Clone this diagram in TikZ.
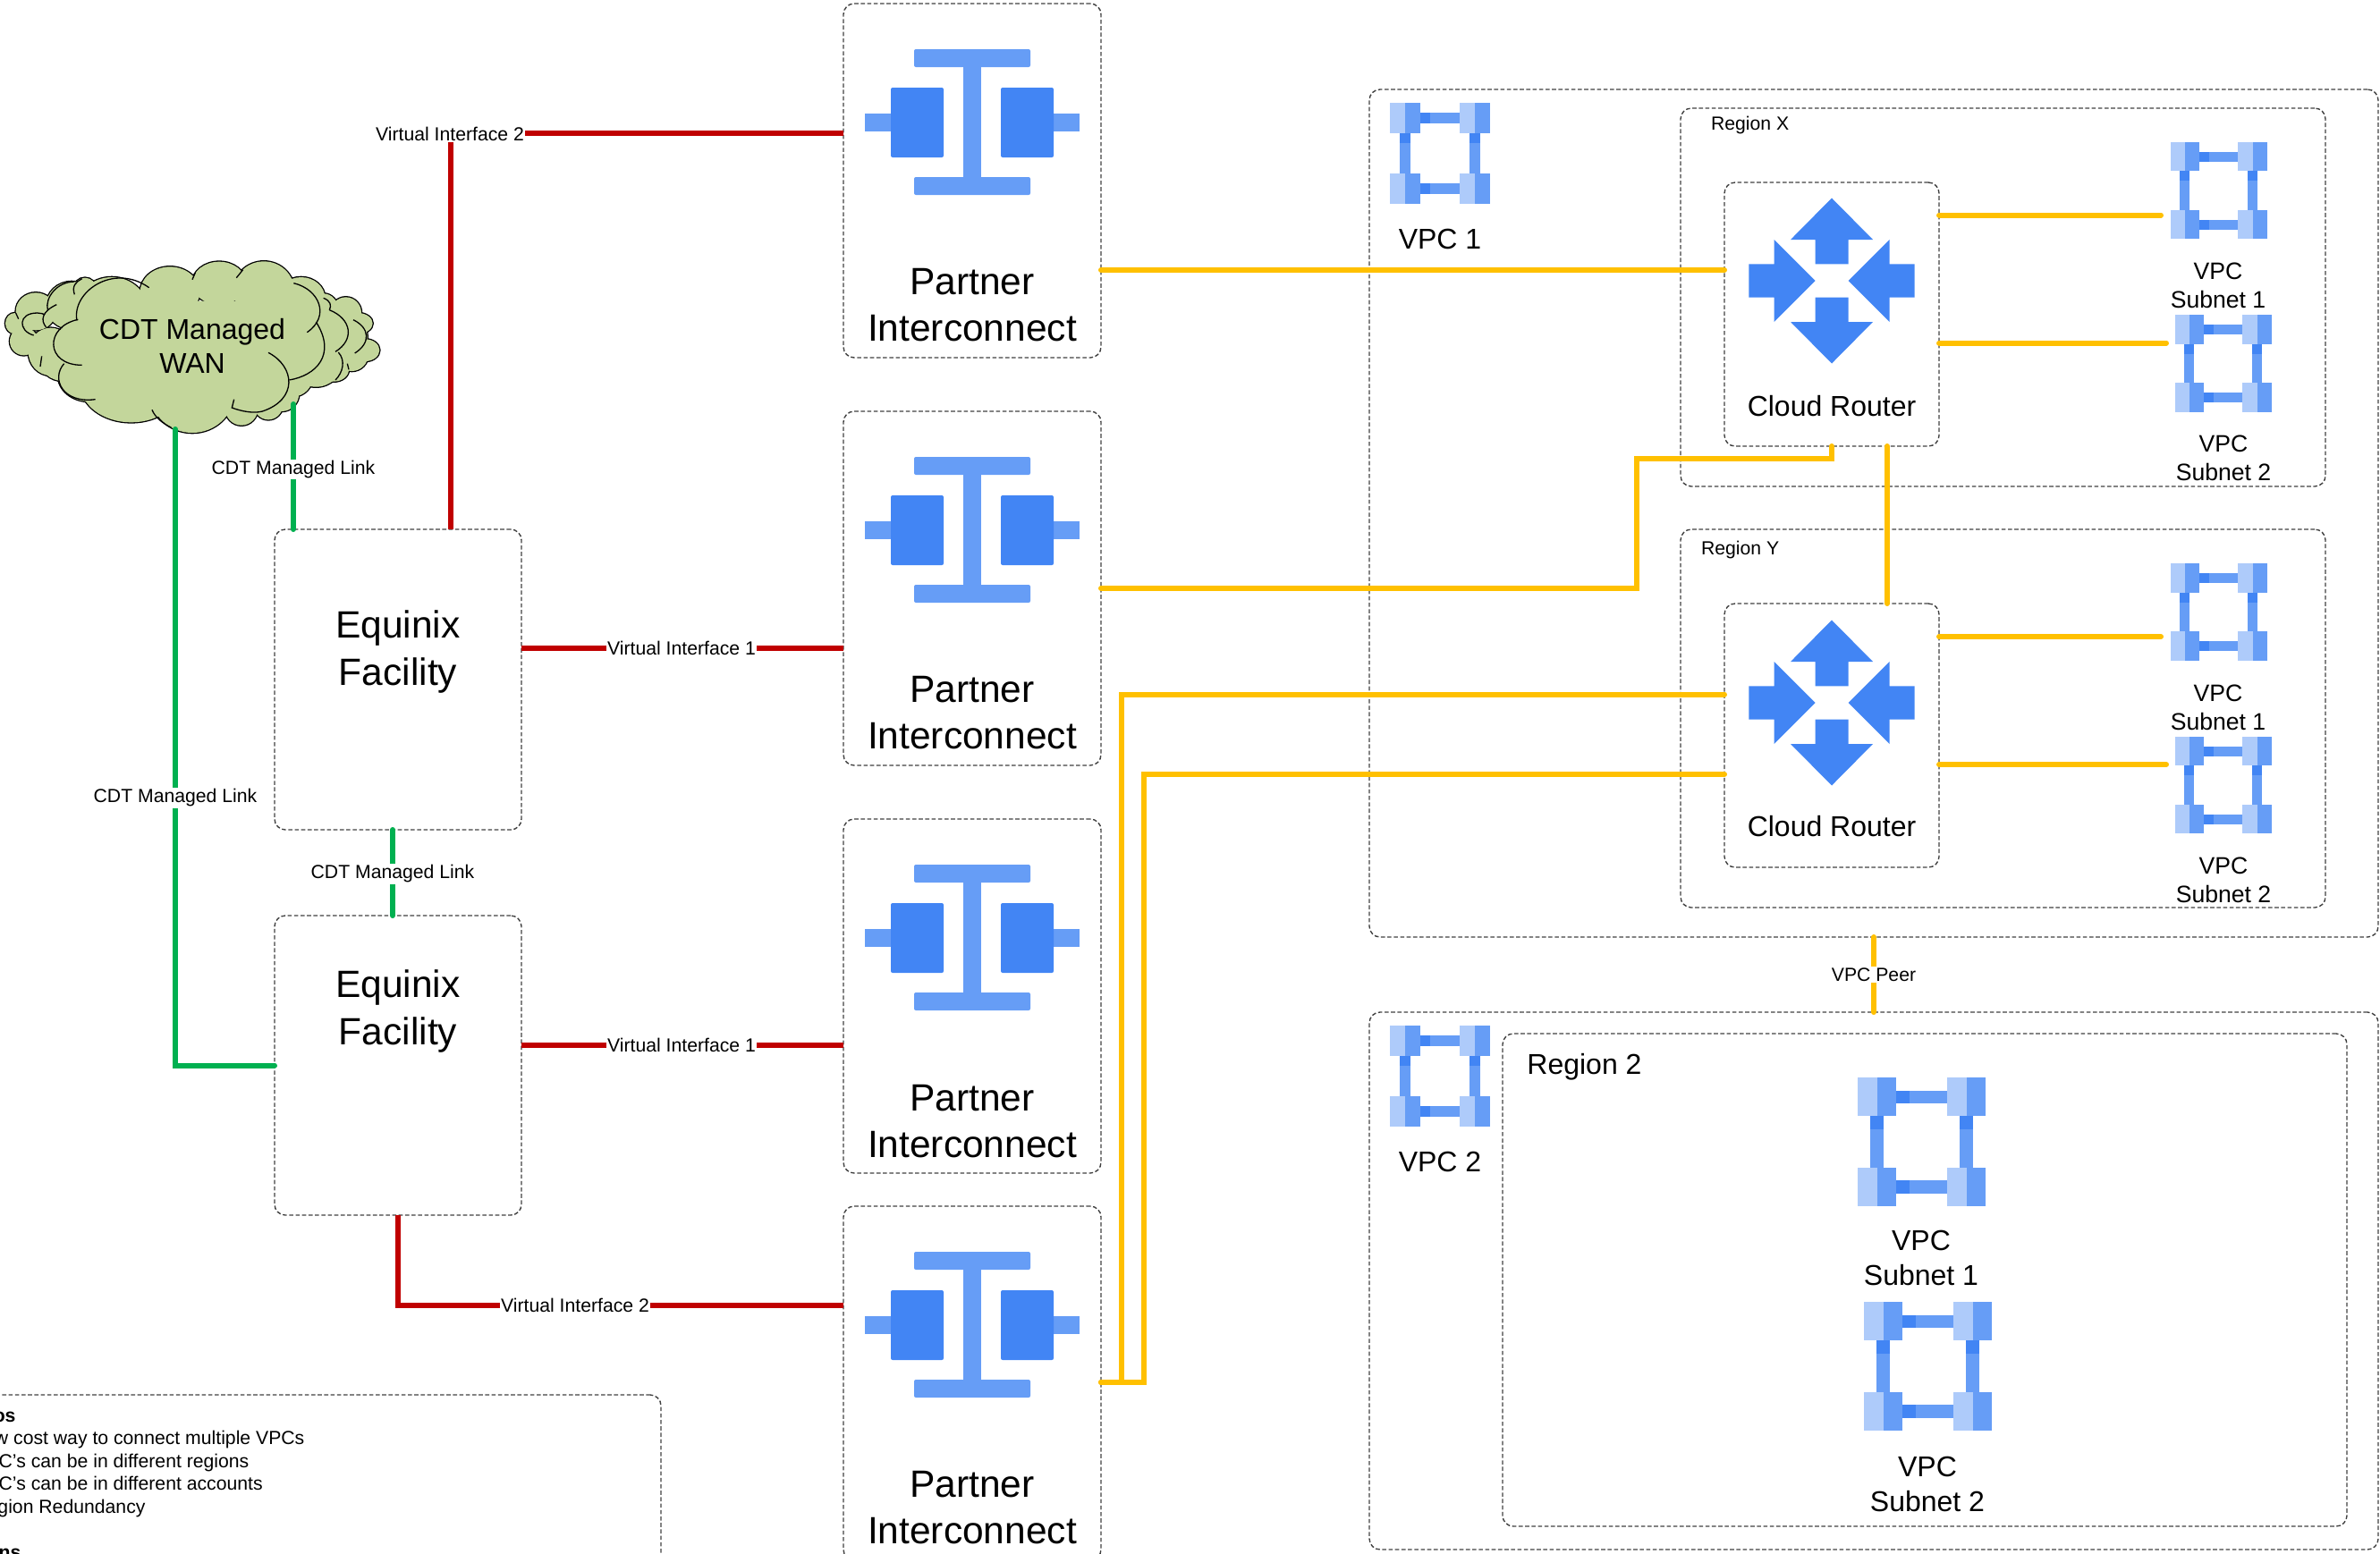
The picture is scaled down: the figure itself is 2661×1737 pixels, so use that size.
\documentclass[tikz,border=0pt]{standalone}
\usepackage{fontspec}
\setmainfont{Liberation Sans}
\definecolor{gdark}{HTML}{4285F4}
\definecolor{gmid}{HTML}{669DF6}
\definecolor{glight}{HTML}{AECBFA}
\definecolor{redline}{HTML}{C00000}
\definecolor{amber}{HTML}{FFC000}
\definecolor{greenline}{HTML}{00B050}
\definecolor{cloudfill}{HTML}{C3D69B}
\newcommand{\cloudlobes}{120/235/67/63, 50/275/32/35, 80/335/47/47, 240/215/85/80, 285/160/38/38,
  375/230/120/110, 570/170/100/85, 735/140/90/72, 885/165/102/98, 1010/190/80/70,
  1085/230/50/55, 1160/240/52/53, 1200/275/50/35, 1225/365/48/37, 1180/380/55/55,
  170/370/75/80, 210/400/75/68, 300/450/105/87, 440/480/170/127, 645/510/140/132,
  850/470/118/105, 810/560/55/57, 900/550/48/48, 945/510/58/60, 985/450/65/70,
  1060/400/90/88, 1120/430/50/40, 1000/340/90/125, 1080/300/90/75, 1160/320/72/70}
\tikzset{
  dbox/.style={draw=black!75,line width=0.7pt,dash pattern=on 2.3pt off 1.3pt,rounded corners=6pt,
    inner sep=0pt,outer sep=0pt,anchor=north west},
  boxwh/.style 2 args={minimum width=#1*0.5pt,minimum height=#2*0.5pt},
  redl/.style={draw=redline,line width=3pt},
  ambl/.style={draw=amber,line width=3pt,line cap=round},
  grnl/.style={draw=greenline,line width=3pt,line cap=round},
  lab/.style={fill=white,inner sep=0.8pt,font=\fontsize{10.6}{12.75}\selectfont},
  bigt/.style={align=center,inner sep=0pt,font=\fontsize{21.25}{26.3}\selectfont},
  midt/.style={align=center,inner sep=0pt,font=\fontsize{16}{19.5}\selectfont},
  smlt/.style={align=center,inner sep=0pt,font=\fontsize{13.3}{16}\selectfont},
  pics/piicon/.style={code={
    \fill[gmid,rounded corners=1pt] (-65,51) rectangle (65,71);
    \fill[gmid,rounded corners=1pt] (-65,194) rectangle (65,214);
    \fill[gmid] (-10,71) rectangle (10,194);
    \fill[gmid] (-120,123) rectangle (-91,143);
    \fill[gmid] (91,123) rectangle (120,143);
    \fill[gdark,rounded corners=1pt] (-91,94) rectangle (-32,172);
    \fill[gdark,rounded corners=1pt] (32,94) rectangle (91,172);
  }},
  pics/routericon/.style={code={
    \fill[gdark] (0,-92.5) -- (46,-46) -- (18.5,-46) -- (18.5,-18.7) -- (-18.5,-18.7) -- (-18.5,-46) -- (-46,-46) -- cycle;
    \fill[gdark] (0,92.5) -- (46,46) -- (18.5,46) -- (18.5,18.7) -- (-18.5,18.7) -- (-18.5,46) -- (-46,46) -- cycle;
    \fill[gdark] (-18.5,0) -- (-64.5,-46) -- (-64.5,-18.7) -- (-92.7,-18.7) -- (-92.7,18.7) -- (-64.5,18.7) -- (-64.5,46) -- cycle;
    \fill[gdark] (18.5,0) -- (64.5,-46) -- (64.5,-18.7) -- (92.7,-18.7) -- (92.7,18.7) -- (64.5,18.7) -- (64.5,46) -- cycle;
  }},
  pics/vpcicon/.style={code={
    \foreach \bx/\by in {0/0,75.5/0,0/76,75.5/76}{
      \fill[glight] (\bx,\by) rectangle ++(16.3,32.5);
      \fill[gmid] (\bx+16.3,\by) rectangle ++(16.2,32.5);
    }
    \foreach \ly in {11,87}{
      \fill[gmid] (32.5,\ly) rectangle (75.5,\ly+11);
      \fill[gdark] (32.5,\ly) rectangle (43.5,\ly+11);
    }
    \foreach \lx in {10.7,86.2}{
      \fill[gmid] (\lx,32.5) rectangle (\lx+11,76);
      \fill[gdark] (\lx,32.5) rectangle (\lx+11,43.5);
    }
  }},
}
\begin{document}
\begin{tikzpicture}[x=0.5pt,y=-0.5pt]
\useasboundingbox (0,0) rectangle (2661,1737);
\clip (0,0) rectangle (2661,1737);

% cloud
\begin{scope}[shift={(0,270)},x=0.16667pt,y=-0.16667pt]
  \foreach \cx/\cy/\ra/\rb in \cloudlobes {\draw[black,line width=1.3pt] (\cx,\cy) ellipse [x radius=\ra,y radius=\rb];}
  \foreach \cx/\cy/\ra/\rb in \cloudlobes {\fill[cloudfill] (\cx,\cy) ellipse [x radius=\ra,y radius=\rb];}
  \fill[cloudfill] (300,200) -- (1000,200) -- (1100,350) -- (950,500) -- (650,600) -- (300,500) -- (150,350) -- cycle;
  \begin{scope}[black,line width=0.65pt]
    \draw (262,262) .. controls (150,285) and (150,415) .. (275,415);
    \draw (258,265) .. controls (240,170) and (380,70) .. (500,155);
    \draw (645,128) -- (655,105);
    \draw (793,122) -- (815,95);
    \draw (985,140) .. controls (1070,160) and (1110,250) .. (1030,305);
    \draw (1060,270) .. controls (1130,380) and (1060,450) .. (970,465);
    \draw (900,373) .. controls (990,420) and (1000,530) .. (880,570) .. controls (850,578) and (810,570) .. (778,558) -- (785,530);
    \draw (510,565) .. controls (520,590) and (545,610) .. (575,625);
    \draw (215,410) .. controls (170,460) and (210,545) .. (320,530);
    \draw (190,212) .. controls (140,235) and (135,265) .. (155,288);
    \draw (113,315) .. controls (60,300) and (60,240) .. (125,240) .. controls (135,240) and (145,243) .. (150,245);
    \draw (250,178) .. controls (240,150) and (255,135) .. (275,125);
    \draw (160,230) .. controls (150,190) and (190,135) .. (250,135);
    \draw (53,240) -- (62,260);
    \draw (140,385) -- (135,420);
    \draw (1085,190) .. controls (1110,200) and (1112,215) .. (1105,230);
    \draw (1105,230) .. controls (1180,260) and (1190,330) .. (1125,370);
    \draw (1185,263) .. controls (1240,290) and (1245,340) .. (1190,375);
    \draw (1135,372) .. controls (1160,400) and (1150,440) .. (1125,465);
    \draw (1165,410) -- (1170,430);
  \end{scope}
\end{scope}
\node[align=center,inner sep=0pt,font=\fontsize{16}{19}\selectfont] (cloud) at (215,387) {CDT Managed\\WAN};

% containers
\node[dbox,boxwh={1128}{948}] (vpc1) at (1531,100) {};
\node[dbox,boxwh={1128}{601}] (vpc2) at (1531,1132) {};
\node[dbox,boxwh={721}{423}] (regx) at (1879,121) {};
\node[dbox,boxwh={721}{423}] (regy) at (1879,592) {};
\node[dbox,boxwh={944}{551}] (reg2) at (1680,1156) {};
\node[dbox,boxwh={240}{295}] (cr1) at (1928,204) {};
\node[dbox,boxwh={240}{295}] (cr2) at (1928,675) {};
\node[dbox,boxwh={288}{396}] (pi1) at (943,4) {};
\node[dbox,boxwh={288}{396}] (pi2) at (943,460) {};
\node[dbox,boxwh={288}{396}] (pi3) at (943,916) {};
\node[dbox,boxwh={288}{396}] (pi4) at (943,1349) {};
\node[dbox,boxwh={276}{336}] (eq1) at (307,592) {};
\node[dbox,boxwh={276}{335}] (eq2) at (307,1024) {};
\node[dbox,boxwh={839}{300}] (notes) at (-100,1560) {};

% icons
\pic at (1087,4) {piicon};
\pic at (1087,460) {piicon};
\pic at (1087,916) {piicon};
\pic at (1087,1349) {piicon};
\pic at (2048,314) {routericon};
\pic at (2048,786) {routericon};
\pic at (2426.7,158.5) {vpcicon};
\pic at (2431.7,352) {vpcicon};
\pic at (2426.7,630) {vpcicon};
\pic at (2431.7,823.7) {vpcicon};
\pic[scale=1.037] at (1554,115) {vpcicon};
\pic[scale=1.037] at (1554,1147) {vpcicon};
\pic[scale=1.324] at (2077,1205) {vpcicon};
\pic[scale=1.324] at (2084,1456) {vpcicon};

% waypoints
\coordinate (vi2c) at (504,148.5);
\coordinate (vi1a) at (700,724.5);
\coordinate (vi1b) at (700,1168.5);
\coordinate (gtop) at (328,452);
\coordinate (gleft) at (196,480);
\coordinate (vi2d) at (445,1459.5);
\coordinate (gcorner) at (196,1191.5);
\coordinate (gmidc) at (439,976);
\coordinate (a1) at (1500,302);
\coordinate (a2a) at (1830,658);
\coordinate (a2b) at (1830,512.5);
\coordinate (a3) at (2110,600);
\coordinate (s11) at (2416,240.5);
\coordinate (s12) at (2422,383.5);
\coordinate (s21) at (2416,712);
\coordinate (s22) at (2422,855);
\coordinate (a4a) at (1254,1546);
\coordinate (a4b) at (1254,776.5);
\coordinate (a5a) at (1279,1546);
\coordinate (a5b) at (1279,866);
\coordinate (peer) at (2095,1090);

% red connectors
\draw[redl] (pi1.west |- vi2c) -- (vi2c) -- (vi2c |- eq1.north);
\draw[redl] (eq1.east |- vi1a) -- (pi2.west |- vi1a);
\draw[redl] (eq2.east |- vi1b) -- (pi3.west |- vi1b);
\draw[redl] (eq2.south) -- (eq2.south |- vi2d) -- (pi4.west |- vi2d);

% green connectors
\draw[grnl] (gtop) -- (gtop |- eq1.north);
\draw[grnl] (gleft) -- (gcorner) -- (eq2.west |- gcorner);
\draw[grnl] (gmidc |- eq1.south) -- (gmidc |- eq2.north);

% amber connectors
\draw[ambl] (pi1.east |- a1) -- (cr1.west |- a1);
\draw[ambl] (pi2.east |- a2a) -- (a2a) -- (a2b) -- (cr1.south |- a2b) -- (cr1.south);
\draw[ambl] (a3 |- cr1.south) -- (a3 |- cr2.north);
\draw[ambl] (cr1.east |- s11) -- (s11);
\draw[ambl] (cr1.east |- s12) -- (s12);
\draw[ambl] (cr2.east |- s21) -- (s21);
\draw[ambl] (cr2.east |- s22) -- (s22);
\draw[ambl] (pi4.east |- a4a) -- (a4a) -- (a4b) -- (cr2.west |- a4b);
\draw[ambl] (pi4.east |- a5a) -- (a5a) -- (a5b) -- (cr2.west |- a5b);
\draw[ambl] (peer |- vpc1.south) -- (peer |- vpc2.north);

% connector labels
\node[lab] (lv2a) at (503,150) {Virtual Interface 2};
\node[lab] (lv1a) at (762,724.5) {Virtual Interface 1};
\node[lab] (lv1b) at (762,1169) {Virtual Interface 1};
\node[lab] (lv2b) at (643,1460) {Virtual Interface 2};
\node[lab] (lg1) at (328,525) {CDT Managed Link};
\node[lab] (lg2) at (196,892) {CDT Managed Link};
\node[lab] (lg3) at (439,977) {CDT Managed Link};
\node[lab] (lpeer) at (2095,1090) {VPC Peer};

% texts
\node[bigt] (tpi1) at (1087,341) {Partner\\Interconnect};
\node[bigt] (tpi2) at (1087,797) {Partner\\Interconnect};
\node[bigt] (tpi3) at (1087,1254) {Partner\\Interconnect};
\node[bigt] (tpi4) at (1087,1686) {Partner\\Interconnect};
\node[bigt] (teq1) at (445,729) {Equinix\\Facility};
\node[bigt] (teq2) at (445,1131) {Equinix\\Facility};
\node[midt] (tcr1) at (2048,454) {Cloud Router};
\node[midt] (tcr2) at (2048,924) {Cloud Router};
\node[font=\fontsize{16}{18}\selectfont,inner sep=0pt] (tv1) at (1610,267) {VPC 1};
\node[font=\fontsize{16}{18}\selectfont,inner sep=0pt] (tv2) at (1610,1299) {VPC 2};
\node[lab,fill=none,anchor=west] (trx) at (1911,140) {Region X};
\node[lab,fill=none,anchor=west] (try) at (1900,615) {Region Y};
\node[midt,anchor=west] (tr2) at (1707,1193) {Region 2};
\node[smlt] (ts11) at (2480,319) {VPC\\Subnet 1};
\node[smlt] (ts12) at (2486,512) {VPC\\Subnet 2};
\node[smlt] (ts21) at (2480,791) {VPC\\Subnet 1};
\node[smlt] (ts22) at (2486,984) {VPC\\Subnet 2};
\node[midt] (tr21) at (2148,1407) {VPC\\Subnet 1};
\node[midt] (tr22) at (2155,1660) {VPC\\Subnet 2};
\node[align=left,anchor=north west,inner sep=0pt,font=\fontsize{10.6}{12.75}\selectfont] (tnotes) at (-30,1575)
  {\textbf{Pros}\\Low cost way to connect multiple VPCs\\VPC’s can be in different regions\\VPC’s can be in different accounts\\Region Redundancy\\[12.75pt]\textbf{Cons}};
\end{tikzpicture}
\end{document}
